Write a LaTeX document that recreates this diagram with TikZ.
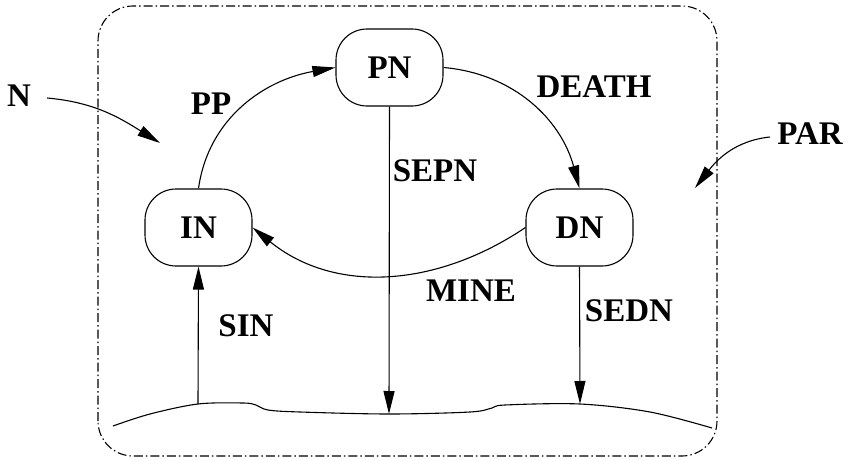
\documentclass[tikz,border=0pt]{standalone}
\usepackage{fontspec}
\setmainfont{Liberation Serif}
\usetikzlibrary{arrows.meta}
\begin{document}
\begin{tikzpicture}[x=1pt,y=1pt,line width=1.1pt,
  state/.style={draw, rounded corners=31pt, minimum width=107pt, minimum height=77pt, inner sep=0pt, font=\fontsize{33}{36}\selectfont\bfseries},
  lbl/.style={font=\fontsize{33}{36}\selectfont\bfseries, inner sep=0pt},
  conn/.style={line width=1.1pt, -{Triangle[length=23pt,width=11pt]}},
  border/.style={line width=1.1pt, dash pattern=on 9pt off 3pt on 1.5pt off 3pt, rounded corners=35pt}]
\useasboundingbox (0,0) rectangle (846,459);
% boundary
\draw[border] (98,3) rectangle (717,453);
% states
\node[state] (PN) at (389.5,391.5) {PN};
\node[state] (IN) at (198.5,231.5) {IN};
\node[state] (DN) at (579.5,231.5) {DN};
% ground
\coordinate (g1) at (198,55);
\coordinate (g2) at (389,45);
\coordinate (g3) at (580,55);
\draw[line width=1.1pt] plot[smooth, tension=0.55] coordinates {(113,33) (150,45) (198,55) (243,56) (256,54) (268,49) (300,47) (389,45) (470,47) (492,51) (505,54) (580,55) (650,47) (712,31)};
% labels
\node[lbl] (N) at (19,363) {N};
\node[lbl] (PAR) at (810,325) {PAR};
\node[lbl] (PP) at (211,355) {PP};
\node[lbl] (DEATH) at (594,372) {DEATH};
\node[lbl] (SEPN) at (435,288) {SEPN};
\node[lbl] (SIN) at (246,133) {SIN};
\node[lbl] (MINE) at (471,168) {MINE};
\node[lbl] (SEDN) at (629,148) {SEDN};
% pointer arrows
\coordinate (ns) at (47,361);
\coordinate (nt) at (160,316);
\coordinate (ps) at (770,322);
\coordinate (pt) at (695,271);
\draw[conn] (ns) to[out=-5,in=148] (nt);
\draw[conn] (ps) to[out=186,in=52] (pt);
% transitions
\draw[conn] (IN.north) to[out=82,in=190] (PN.west);
\draw[conn] (PN.east) to[out=-5,in=105] (DN.north);
\draw[conn] (DN.west) to[out=214,in=-39] (IN.east);
\draw[conn] (PN.south) -- (g2);
\draw[conn] (g1) -- (IN.south);
\draw[conn] (DN.south) -- (g3);
\end{tikzpicture}
\end{document}
